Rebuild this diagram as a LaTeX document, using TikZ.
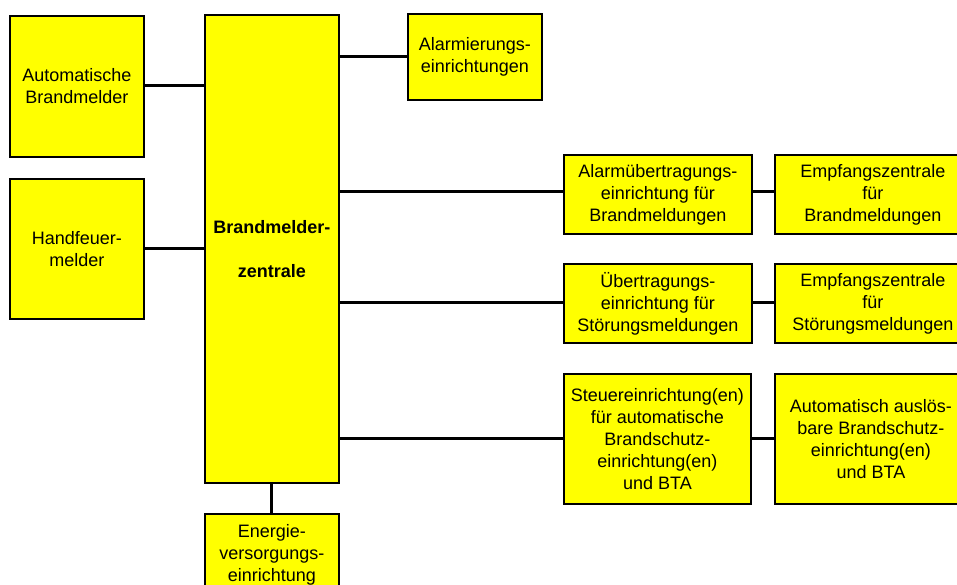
\documentclass[tikz,border=0pt]{standalone}
\usepackage{fontspec}
\setmainfont{Liberation Sans}
\definecolor{boxyellow}{RGB}{255,255,0}
\begin{document}
\begin{tikzpicture}[x=1pt,y=-1pt,
  box/.style={draw=black, line width=1.8pt, fill=boxyellow, inner sep=0pt,
    align=center, font=\fontsize{18}{22}\selectfont, anchor=north west},
  conn/.style={draw=black, line width=3pt}]
\useasboundingbox (0,0) rectangle (957,585);
\clip (0,0) rectangle (957,585);
% left column
\node[box, minimum width=134pt, minimum height=141pt] (auto) at (9,15) {Automatische\\Brandmelder};
\node[box, minimum width=134pt, minimum height=140pt] (hand) at (9,178) {Handfeuer-\\melder};
% central unit
\node[box, minimum width=134pt, minimum height=468pt, font=\fontsize{18}{22}\selectfont\bfseries] (bmz) at (204,14) {Brandmelder-\\[22pt]zentrale};
\node[box, minimum width=134pt, minimum height=82pt] (energie) at (204,513) {Energie-\\versorgungs-\\einrichtung};
% right side
\node[box, minimum width=134pt, minimum height=86pt] (alarmier) at (407,13) {Alarmierungs-\\einrichtungen};
\node[box, minimum width=188pt, minimum height=79pt] (aue) at (563,154) {Alarmübertragungs-\\einrichtung für\\Brandmeldungen};
\node[box, minimum width=196pt, minimum height=79pt] (ezb) at (774,154) {Empfangszentrale\\für\\Brandmeldungen};
\node[box, minimum width=188pt, minimum height=79pt] (ue) at (563,263) {Übertragungs-\\einrichtung für\\Störungsmeldungen};
\node[box, minimum width=196pt, minimum height=79pt] (ezs) at (774,263) {Empfangszentrale\\für\\Störungsmeldungen};
\node[box, minimum width=187pt, minimum height=130pt] (steuer) at (563,373) {Steuereinrichtung(en)\\für automatische\\Brandschutz-\\einrichtung(en)\\und BTA};
\node[box, minimum width=192pt, minimum height=130pt] (bsa) at (774,373) {Automatisch auslös-\\bare Brandschutz-\\einrichtung(en)\\und BTA};
% connectors
\coordinate (pa) at (143,86);
\coordinate (ph) at (143,248);
\draw[conn] (pa -| auto.east) -- (pa -| bmz.west);
\draw[conn] (ph -| hand.east) -- (ph -| bmz.west);
\draw[conn] (bmz.east |- alarmier.west) -- (alarmier.west);
\coordinate (p1) at (0,192);
\draw[conn] (p1 -| bmz.east) -- (p1 -| aue.west);
\draw[conn] (p1 -| aue.east) -- (p1 -| ezb.west);
\coordinate (p2) at (0,302);
\draw[conn] (p2 -| bmz.east) -- (p2 -| ue.west);
\draw[conn] (p2 -| ue.east) -- (p2 -| ezs.west);
\coordinate (p3) at (0,438);
\draw[conn] (p3 -| bmz.east) -- (p3 -| steuer.west);
\draw[conn] (p3 -| steuer.east) -- (p3 -| bsa.west);
\draw[conn] (bmz.south) -- (energie.north);
\end{tikzpicture}
\end{document}
